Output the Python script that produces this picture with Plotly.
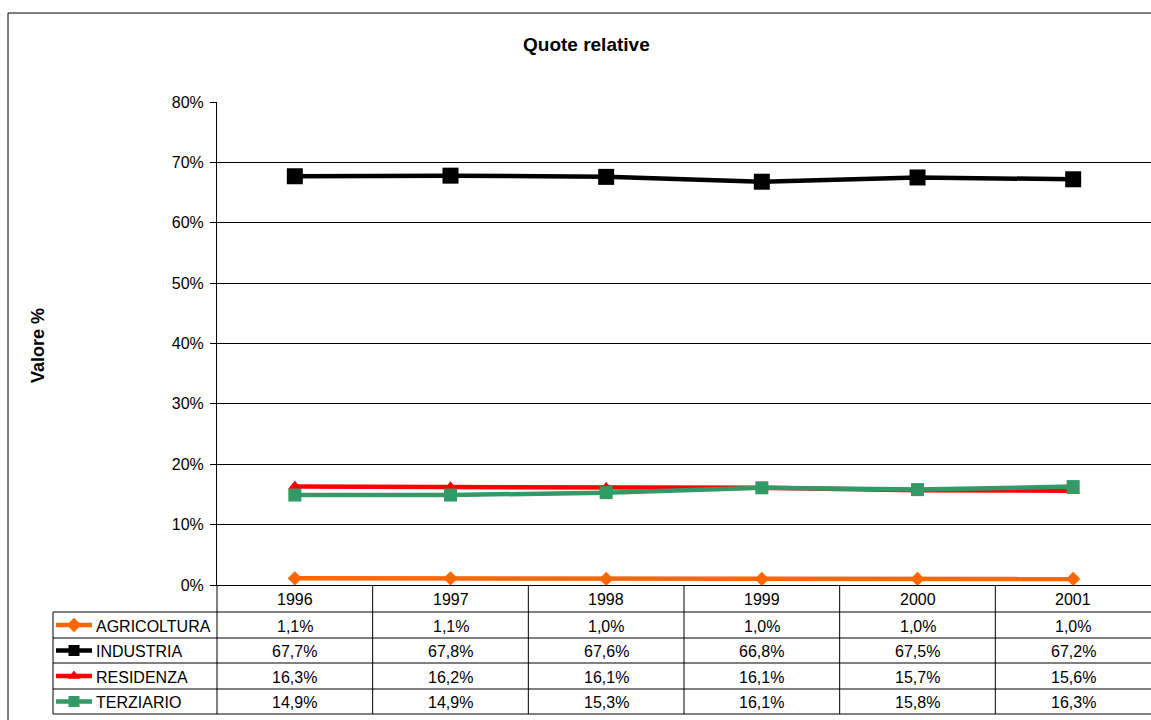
import plotly.graph_objects as go

# ---- data ----
years = ["1996", "1997", "1998", "1999", "2000", "2001"]
agricoltura = [1.1, 1.1, 1.0, 1.0, 1.0, 1.0]
industria = [67.7, 67.8, 67.6, 66.8, 67.5, 67.2]
residenza = [16.3, 16.2, 16.1, 16.1, 15.7, 15.6]
terziario = [14.9, 14.9, 15.3, 16.1, 15.8, 16.3]
y_ticks = [0, 10, 20, 30, 40, 50, 60, 70, 80]

series = [
    ("AGRICOLTURA", agricoltura, "#FF6600", "diamond", 11),
    ("INDUSTRIA", industria, "#000000", "square", 16),
    ("RESIDENZA", residenza, "#FF0000", "triangle-up", 12),
    ("TERZIARIO", terziario, "#339966", "square", 13),
]

W, H = 1151, 720
FONT = "Liberation Sans, Arial, sans-serif"
FS = 16

# plot-area geometry (pixels)
PX0, PX1 = 217, 1151
PY_TOP, PY_BOT = 102, 585
# table geometry (pixels)
TAB_LEFT = 53
ROW_EDGES = [585, 612, 638, 663, 689, 714]

fig = go.Figure()

xs = list(range(len(years)))
for name, vals, color, sym, msize in series:
    fig.add_trace(go.Scatter(
        x=xs, y=vals, mode="lines+markers", name=name,
        line=dict(color=color, width=4.5),
        marker=dict(symbol=sym, size=msize, color=color),
        xaxis="x", yaxis="y", showlegend=False, cliponaxis=False,
    ))

# ---- table overlay (pixel coordinate axes) ----
shapes = []
def seg(x0, y0, x1, y1, color="black", w=1):
    shapes.append(dict(type="line", xref="x2", yref="y2", x0=x0, y0=y0,
                       x1=x1, y1=y1, line=dict(color=color, width=w)))

# outer chart frame
seg(8, 13, W + 5, 13)
seg(8, 13, 8, H + 5)

band = (PX1 - PX0) / len(years)
# vertical lines of the table
seg(PX0, PY_BOT, PX0, ROW_EDGES[-1])
seg(TAB_LEFT, ROW_EDGES[1], TAB_LEFT, ROW_EDGES[-1])
for i in range(1, len(years)):
    xv = PX0 + band * i
    seg(xv, PY_BOT, xv, ROW_EDGES[-1])
# horizontal lines of the table
for yy in ROW_EDGES[1:]:
    seg(TAB_LEFT, yy, W + 5, yy)

annotations = []
def txt(x, y, s, anchor="center", size=FS, bold=False):
    annotations.append(dict(
        xref="x2", yref="y2", x=x, y=y, text=f"<b>{s}</b>" if bold else s,
        showarrow=False, xanchor=anchor, yanchor="middle",
        font=dict(family=FONT, size=size, color="black")))

# year header
for i, yr in enumerate(years):
    txt(PX0 + band * (i + 0.5), (ROW_EDGES[0] + ROW_EDGES[1]) / 2 + 1, yr)

def fmt(v):
    return f"{v:.1f}".replace(".", ",") + "%"

for r, (name, vals, color, sym, msize) in enumerate(series):
    yc = (ROW_EDGES[r + 1] + ROW_EDGES[r + 2]) / 2 + 1
    txt(94, yc, name, anchor="left")
    for i, v in enumerate(vals):
        txt(PX0 + band * (i + 0.5), yc, fmt(v))
    # legend key: line + marker
    fig.add_trace(go.Scatter(
        x=[56, 92], y=[yc - 1, yc - 1], mode="lines",
        line=dict(color=color, width=4.5),
        xaxis="x2", yaxis="y2", showlegend=False, hoverinfo="skip"))
    fig.add_trace(go.Scatter(
        x=[74], y=[yc - 1], mode="markers",
        marker=dict(symbol=sym, size=min(msize, 11), color=color),
        xaxis="x2", yaxis="y2", showlegend=False, hoverinfo="skip"))

# title and axis title
txt(586, 44, "Quote relative", bold=True, size=19)
annotations.append(dict(
    xref="x2", yref="y2", x=38, y=346, text="<b>Valore %</b>",
    showarrow=False, textangle=-90, xanchor="center", yanchor="middle",
    font=dict(family=FONT, size=18, color="black")))

fig.update_layout(
    width=W, height=H,
    autosize=False,
    margin=dict(l=0, r=0, t=0, b=0, pad=0, autoexpand=False),
    paper_bgcolor="white",
    plot_bgcolor="rgba(0,0,0,0)",
    font=dict(family=FONT, size=FS, color="black"),
    xaxis=dict(
        domain=[PX0 / W, PX1 / W], range=[-0.5, len(years) - 0.5],
        showticklabels=False, showgrid=False, zeroline=False,
        showline=True, linecolor="black", linewidth=1, ticks="",
        fixedrange=True, automargin=False,
    ),
    yaxis=dict(
        domain=[1 - PY_BOT / H, 1 - PY_TOP / H], range=[0, 80],
        tickvals=y_ticks, ticktext=[f"{t}%" for t in y_ticks],
        showgrid=True, gridcolor="black", gridwidth=1, zeroline=False,
        showline=True, linecolor="black", linewidth=1,
        ticks="outside", ticklen=6, tickcolor="black",
        ticklabelstandoff=3,
        tickfont=dict(family=FONT, size=FS, color="black"),
        fixedrange=True, automargin=False,
    ),
    xaxis2=dict(domain=[0, 1], range=[0, W], visible=False, fixedrange=True,
                showticklabels=False, automargin=False, anchor="y2"),
    yaxis2=dict(domain=[0, 1], range=[H, 0], visible=False, fixedrange=True,
                showticklabels=False, automargin=False, anchor="x2"),
    shapes=shapes,
    annotations=annotations,
)

fig.write_html("out.html", config={"displayModeBar": False})
